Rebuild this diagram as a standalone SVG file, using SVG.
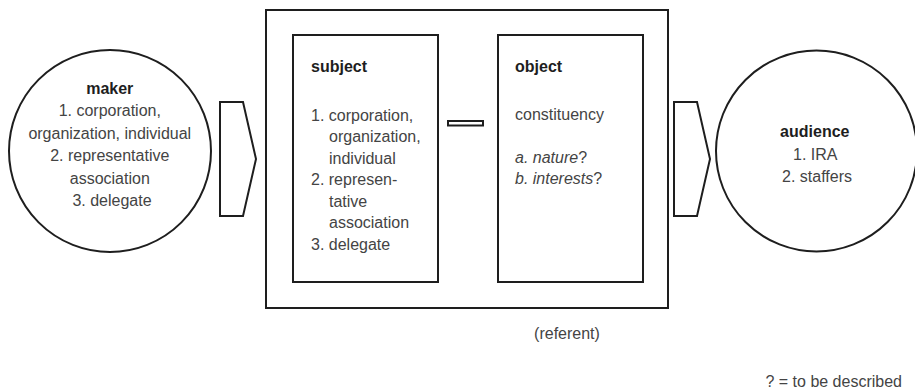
<svg xmlns="http://www.w3.org/2000/svg" width="915" height="392" viewBox="0 0 915 392">
<style>
  .shape { fill: #fff; stroke: #1e1e1e; stroke-width: 2; }
  .t { font-family: "Liberation Sans", Arial, sans-serif; font-size: 16px; fill: #444; }
  .b { font-weight: bold; fill: #1e1e1e; }
  .c { text-anchor: middle; }
  .i { font-style: italic; }
  .n { font-style: normal; }
</style>
<rect width="915" height="392" fill="#fff"/>

<g id="referent">
  <rect class="shape" x="266" y="10" width="402" height="298"/>
  <text class="t c" x="567" y="339">(referent)</text>
</g>

<g id="maker">
  <circle class="shape" cx="110" cy="151" r="101"/>
  <text class="t c" x="112">
    <tspan class="b" x="112" y="93.5">maker</tspan>
    <tspan x="112" y="116">1. corporation,</tspan>
    <tspan x="112" y="138.5">organization, individual</tspan>
    <tspan x="112" y="161">2. representative</tspan>
    <tspan x="112" y="183.5">association</tspan>
    <tspan x="112" y="206">3. delegate</tspan>
  </text>
</g>

<g id="subject">
  <rect class="shape" x="293" y="35" width="145" height="247"/>
  <text class="t">
    <tspan class="b" x="311" y="72">subject</tspan>
    <tspan x="311" y="120.5">1. corporation,</tspan>
    <tspan x="329" y="142">organization,</tspan>
    <tspan x="329" y="163.5">individual</tspan>
    <tspan x="311" y="185">2. represen-</tspan>
    <tspan x="329" y="206.5">tative</tspan>
    <tspan x="329" y="228">association</tspan>
    <tspan x="311" y="249.5">3. delegate</tspan>
  </text>
</g>

<g id="object">
  <rect class="shape" x="498" y="35" width="145" height="247"/>
  <text class="t">
    <tspan class="b" x="515" y="72">object</tspan>
    <tspan x="515" y="120">constituency</tspan>
    <tspan class="i" x="515" y="162.5">a. nature<tspan class="n">?</tspan></tspan>
    <tspan class="i" x="515" y="184">b. interests<tspan class="n">?</tspan></tspan>
  </text>
</g>

<g id="audience">
  <circle class="shape" cx="816.5" cy="151" r="100.5"/>
  <text class="t c">
    <tspan class="b" x="817" y="137">audience</tspan>
    <tspan x="817" y="159.5">1. IRA</tspan>
    <tspan x="817" y="182">2. staffers</tspan>
  </text>
</g>

<g id="connectors">
  <polygon class="shape" points="220,102 243,102 256,159 243,216 220,216"/>
  <rect class="shape" x="448" y="121" width="35" height="4.5"/>
  <polygon class="shape" points="674,102 697,102 710,159 697,216 674,216"/>
</g>

<g id="note">
  <text class="t" x="902" y="387" text-anchor="end">? = to be described</text>
</g>
</svg>
